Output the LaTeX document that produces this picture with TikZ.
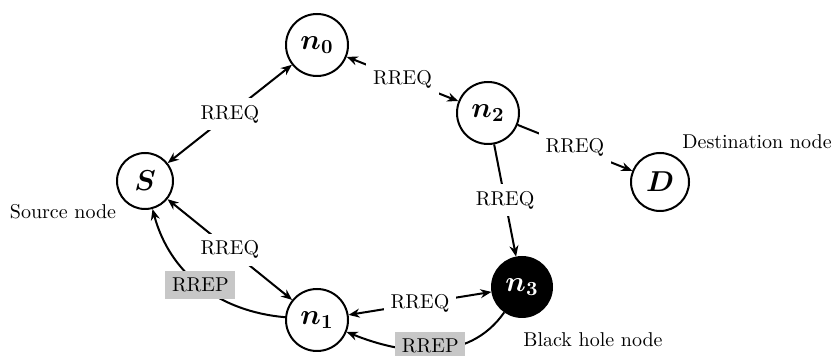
\documentclass[tikz,border=0pt]{standalone}
\usepackage{bm}
\usetikzlibrary{arrows.meta}
\begin{document}
\begin{tikzpicture}[x=0.5pt,y=0.5pt,
  st/.style={circle,draw,line width=1pt,inner sep=0pt,font=\Large},
  lab/.style={fill=white,inner sep=3.5pt},
  rep/.style={fill=black!22,inner sep=3.3pt},
  tip/.tip={Stealth[length=5.5pt,width=4.5pt]},
  arr/.style={line width=1pt,-tip},
  darr/.style={line width=1pt,tip-tip},
]
\useasboundingbox (0,0) rectangle (834,-356);
\node[st,minimum size=31pt] (n0) at (317,-45) {$\bm{n_0}$};
\node[st,minimum size=28pt] (S) at (145,-181) {$\bm{S}$};
\node[st,minimum size=31pt] (n2) at (488,-113) {$\bm{n_2}$};
\node[st,minimum size=29pt] (D) at (660,-182) {$\bm{D}$};
\node[st,minimum size=30pt,fill=black,text=white] (n3) at (522,-287) {$\bm{n_3}$};
\node[st,minimum size=31pt] (n1) at (317,-320) {$\bm{n_1}$};

\draw[darr] (S) -- node[lab]{RREQ} (n0);
\draw[darr] (n0) -- node[lab]{RREQ} (n2);
\draw[arr] (n2) -- node[lab]{RREQ} (D);
\draw[arr] (n2) -- node[lab]{RREQ} (n3);
\draw[darr] (S) -- node[lab]{RREQ} (n1);
\draw[darr] (n1) -- node[lab]{RREQ} (n3);

\draw[arr] (n1) to[out=175,in=-75] node[rep,pos=0.5]{RREP} (S);
\draw[arr] (n3) to[out=-125,in=-22] node[rep,pos=0.52,yshift=2pt]{RREP} (n1);

\node (src) at (63,-212) {Source node};
\node (dst) at (757,-142) {Destination node};
\node (bh) at (593,-340) {Black hole node};
\end{tikzpicture}
\end{document}
